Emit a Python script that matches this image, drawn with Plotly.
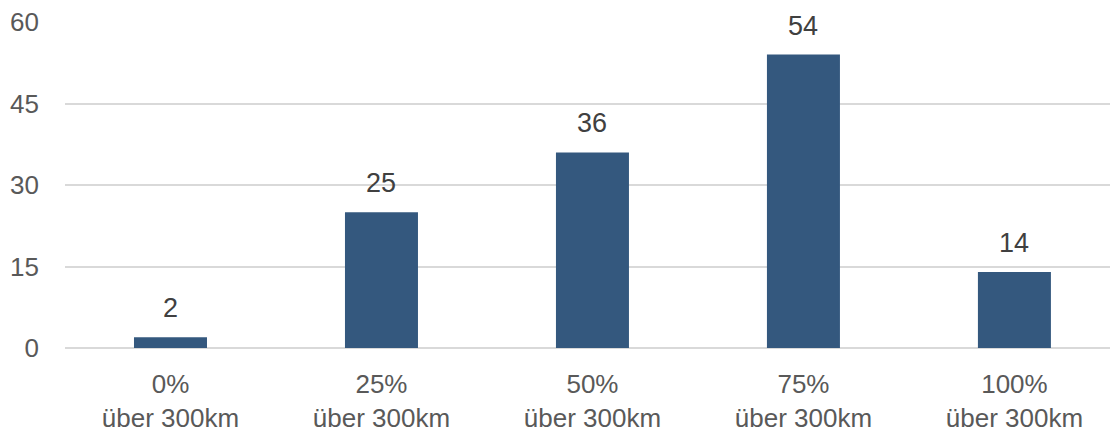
import plotly.graph_objects as go

categories = ["0%<br>über 300km", "25%<br>über 300km", "50%<br>über 300km", "75%<br>über 300km", "100%<br>über 300km"]
values = [2, 25, 36, 54, 14]
y_ticks = [0, 15, 30, 45, 60]

bar_color = "#34587E"
font_family = "Liberation Sans, Arial, sans-serif"

fig = go.Figure()
fig.add_trace(go.Bar(
    x=categories,
    y=values,
    marker=dict(color=bar_color, line=dict(width=0)),
    width=0.346,
    hoverinfo="skip",
))

annotations = [
    dict(x=c, y=v, text=str(v), showarrow=False, yanchor="bottom", yshift=12,
         font=dict(family=font_family, size=27, color="#404040"))
    for c, v in zip(categories, values)
]

fig.update_layout(
    width=1110, height=433,
    margin=dict(l=65, r=0, t=22, b=85),
    paper_bgcolor="white", plot_bgcolor="white",
    showlegend=False,
    annotations=annotations,
    font=dict(family=font_family),
    xaxis=dict(
        range=[-0.5, 4.453],
        showgrid=False, showline=False, zeroline=False,
        tickfont=dict(family=font_family, size=26, color="#595959"),
        ticklabelstandoff=18,
    ),
    yaxis=dict(
        range=[0, 60],
        tickvals=y_ticks,
        showgrid=True, gridcolor="#D9D9D9", gridwidth=2,
        zeroline=True, zerolinecolor="#D9D9D9", zerolinewidth=2,
        showline=False,
        tickfont=dict(family=font_family, size=26, color="#595959"),
        ticklabelstandoff=25,
    ),
)

fig.write_html("out.html")
